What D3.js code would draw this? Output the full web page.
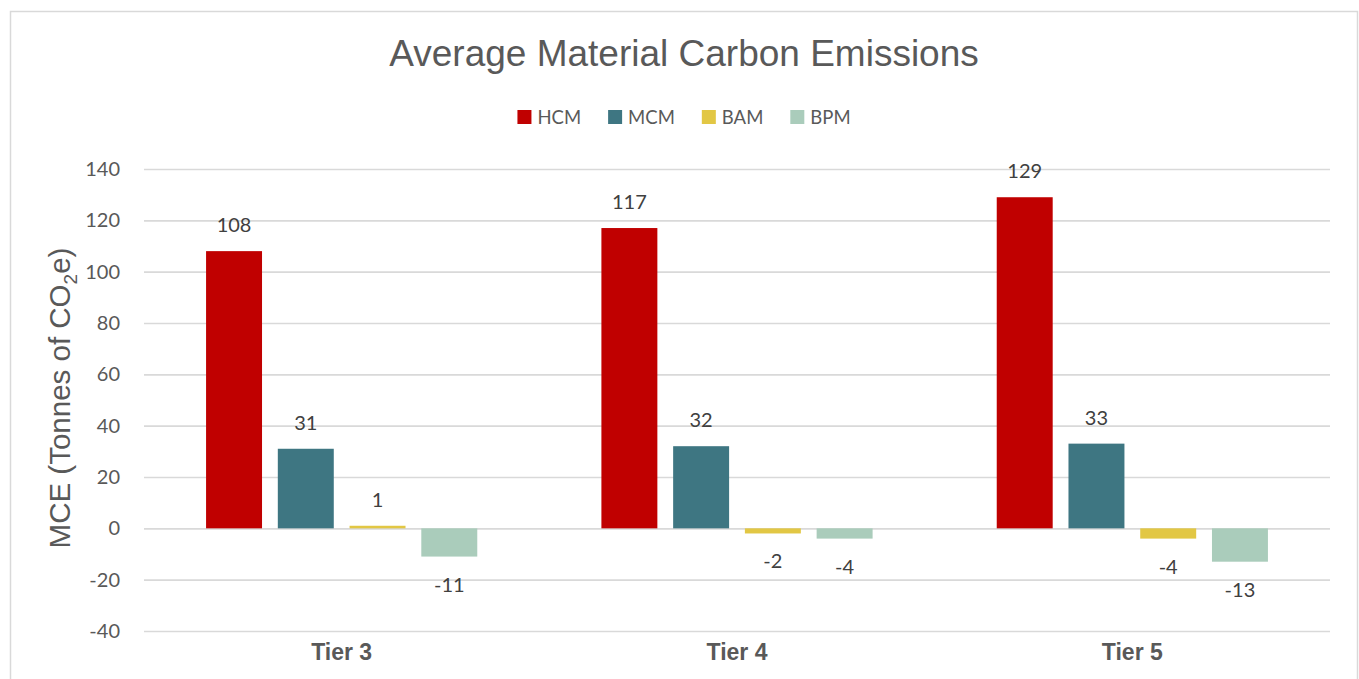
<!DOCTYPE html>
<html>
<head>
<meta charset="utf-8">
<script src="https://cdn.jsdelivr.net/npm/d3@7"></script>
<style>
	html, body { margin: 0; padding: 0; background: #fff; }
	svg { display: block; }
</style>
</head>
<body>
<svg id="chart" width="1359" height="679"></svg>
<script>
/* global d3 */

var tiers = ['Tier 3', 'Tier 4', 'Tier 5'],
	materials = ['HCM', 'MCM', 'BAM', 'BPM'],
	hcm = [108, 117, 129],
	mcm = [31, 32, 33],
	bam = [1, -2, -4],
	bpm = [-11, -4, -13],
	yTicks = [-40, -20, 0, 20, 40, 60, 80, 100, 120, 140],
	colours = ['#C00000', '#3E7682', '#E2C744', '#AACCBB'];

var seriesValues = [hcm, mcm, bam, bpm];

var svg = d3.select('#chart'),
	plot = {left: 144, right: 1330, top: 169, bottom: 631},
	rows = [];

tiers.forEach(function(tier, i) {
	materials.forEach(function(m, j) {
		rows.push({tier: tier, material: m, value: seriesValues[j][i]});
	});
});

var x0 = d3.scaleBand()
		.domain(tiers)
		.range([plot.left, plot.right])
		.paddingInner(0.314)
		.paddingOuter(0.157),
	x1 = d3.scaleBand()
		.domain(materials)
		.range([0, x0.bandwidth()])
		.paddingInner(0.22),
	y = d3.scaleLinear()
		.domain([-40, 140])
		.range([plot.bottom, plot.top]),
	colour = d3.scaleOrdinal().domain(materials).range(colours);

// frame round the chart area
svg.append('rect')
	.attr('x', 10.5)
	.attr('y', 11.5)
	.attr('width', 1347)
	.attr('height', 690)
	.attr('fill', '#fff')
	.attr('stroke', '#d9d9d9')
	.attr('stroke-width', 1.5);

// title
svg.append('text')
	.attr('x', 684)
	.attr('y', 66)
	.attr('text-anchor', 'middle')
	.style('font', '37px "Liberation Sans", Arial, sans-serif')
	.attr('fill', '#595959')
	.text('Average Material Carbon Emissions');

// gridlines + tick labels (plain hyphen for negatives, like the original)
var yAxis = svg.append('g')
	.attr('transform', 'translate(' + plot.left + ',0)')
	.call(d3.axisLeft(y)
		.tickValues(yTicks)
		.tickSize(-(plot.right - plot.left))
		.tickPadding(24)
		.tickFormat(function(d) { return String(d); }));

yAxis.select('.domain').remove();
yAxis.selectAll('.tick line')
	.attr('stroke', '#d9d9d9')
	.attr('stroke-width', 1.6);
yAxis.selectAll('.tick text')
	.attr('fill', '#595959')
	.style('font', '20px Lato, "Open Sans", sans-serif');

// y axis title
var yTitle = svg.append('text')
	.attr('transform', 'translate(70,398) rotate(-90)')
	.attr('text-anchor', 'middle')
	.attr('fill', '#595959')
	.style('font', '29.5px "Liberation Sans", Arial, sans-serif');
yTitle.append('tspan').text('MCE (Tonnes of CO');
yTitle.append('tspan').attr('font-size', '19px').attr('dy', 7).text('2');
yTitle.append('tspan').attr('dy', -7).text('e)');

// bars
var groups = svg.append('g')
	.selectAll('g')
	.data(tiers)
	.enter().append('g')
		.attr('transform', function(d) { return 'translate(' + x0(d) + ',0)'; });

groups.selectAll('rect')
	.data(function(t) { return rows.filter(function(r) { return r.tier === t; }); })
	.enter().append('rect')
		.attr('x', function(d) { return x1(d.material); })
		.attr('y', function(d) { return y(Math.max(0, d.value)); })
		.attr('width', x1.bandwidth())
		.attr('height', function(d) { return Math.abs(y(d.value) - y(0)); })
		.attr('fill', function(d) { return colour(d.material); });

// value labels
groups.selectAll('text')
	.data(function(t) { return rows.filter(function(r) { return r.tier === t; }); })
	.enter().append('text')
		.attr('x', function(d) { return x1(d.material) + x1.bandwidth() / 2; })
		.attr('y', function(d) {
			if (d.value >= 0) {
				return y(d.value) - 19;
			}
			return y(d.value) + 35;
		})
		.attr('text-anchor', 'middle')
		.attr('fill', '#404040')
		.style('font', '20px Lato, "Open Sans", sans-serif')
		.text(function(d) { return d.value; });

// category labels
svg.append('g')
	.selectAll('text')
	.data(tiers)
	.enter().append('text')
		.attr('x', function(d) { return x0(d) + x0.bandwidth() / 2; })
		.attr('y', 660)
		.attr('text-anchor', 'middle')
		.attr('fill', '#595959')
		.style('font', 'bold 23px "Liberation Sans", Arial, sans-serif')
		.text(function(d) { return d; });

// legend
var legend = svg.append('g'),
	lx = 0,
	item;

materials.forEach(function(m) {
	item = legend.append('g').attr('transform', 'translate(' + lx + ',0)');
	item.append('rect')
		.attr('x', 0)
		.attr('y', 110)
		.attr('width', 14)
		.attr('height', 14)
		.attr('fill', colour(m));
	var t = item.append('text')
		.attr('x', 20)
		.attr('y', 124)
		.attr('fill', '#595959')
		.style('font', '18.5px Lato, "Open Sans", sans-serif')
		.text(m);
	lx += 20 + t.node().getComputedTextLength() + 27;
});

legend.attr('transform', 'translate(' + (684 - (lx - 27) / 2) + ',0)');
</script>
</body>
</html>
